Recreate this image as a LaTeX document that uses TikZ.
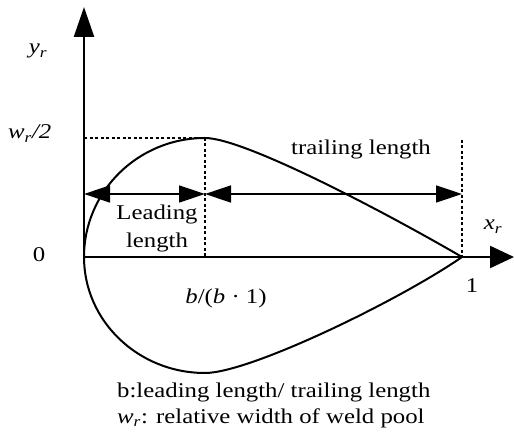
\documentclass[tikz,border=0pt]{standalone}
\usepackage{fontspec}
\setmainfont[FakeStretch=1.18]{Liberation Serif}
\usetikzlibrary{arrows.meta}
\tikzset{
  lbl/.style={inner sep=0pt, font=\fontsize{21}{25}\selectfont},
  axisline/.style={line width=2.4pt},
  curveline/.style={line width=2pt, line join=round},
  dimline/.style={line width=1.4pt, {Triangle[length=26pt,width=17pt]}-{Triangle[length=26pt,width=17pt]}},
  dotline/.style={line width=1.6pt, dash pattern=on 3pt off 2.5pt},
}
\newcommand{\itsub}[2]{\textit{#1}\textsubscript{\textit{#2}}}
\begin{document}
\begin{tikzpicture}[x=1pt,y=-1pt]
\useasboundingbox (0,0) rectangle (514,443);
% key points
\coordinate (O) at (84,257);
\coordinate (P) at (462,257);
\coordinate (M) at (205,138);
\coordinate (B) at (205,373);
\coordinate (Ytip) at (84,7);
\coordinate (Xtip) at (514,257);
\coordinate (Yh) at (84,138);
\coordinate (Mb) at (205,257);
\coordinate (Pt) at (462,140);
\coordinate (DL) at (84,194);
\coordinate (DM) at (205,194);
\coordinate (DR) at (462,194);
% axes
\draw[axisline, -{Triangle[length=30pt,width=20pt]}] (O) -- (Ytip);
\draw[axisline, -{Triangle[length=24pt,width=22pt]}] (O) -- (Xtip);
% dotted guides
\draw[dotline] (Yh) -- (M);
\draw[dotline] (M) -- (Mb);
\draw[dotline] (Pt) -- (P);
% weld pool outline
\draw[curveline] (O) .. controls (84,191.3) and (138.2,138) .. (M)
  .. controls (245,138) and (390,215) .. (P)
  .. controls (400,300) and (250,373) .. (B)
  .. controls (138.2,373) and (84,321) .. (O);
% dimension arrows
\draw[dimline] (DL) -- (DM);
\draw[dimline] (DM) -- (DR);
% labels
\node[lbl, anchor=base] (ylab) at (38,54) {\itsub{y}{r}};
\node[lbl, anchor=base west] (wlab) at (8,139) {\itsub{w}{r}\textit{/2}};
\node[lbl, anchor=base] (zero) at (39,262) {0};
\node[lbl, anchor=base] (lead1) at (157,220) {Leading};
\node[lbl, anchor=base] (lead2) at (157,248) {length};
\node[lbl, anchor=base] (trail) at (361,155) {trailing length};
\node[lbl, anchor=base] (xlab) at (493,230) {\itsub{x}{r}};
\node[lbl, anchor=base] (one) at (472,293) {1};
\node[lbl, anchor=base] (ratio) at (226,304) {\textit{b}/(\textit{b} · 1)};
\node[lbl, anchor=base west] (cap1) at (117,398) {b:leading length/ trailing length};
\node[lbl, anchor=base west] (cap2) at (117,423) {\itsub{w}{r}: relative width of weld pool};
\end{tikzpicture}
\end{document}
